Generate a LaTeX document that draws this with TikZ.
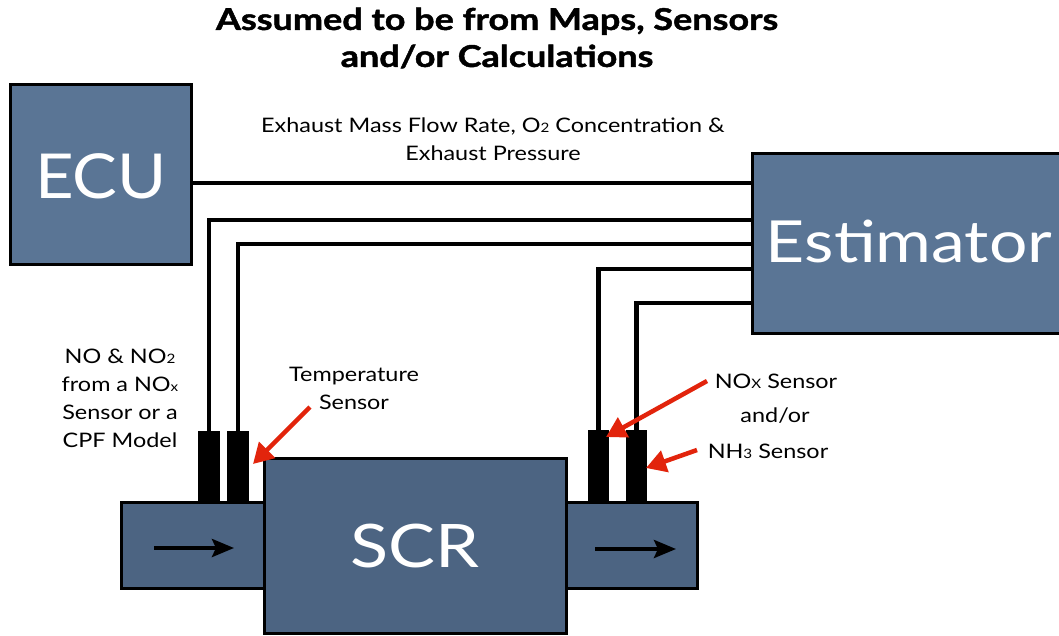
\documentclass[tikz,border=0pt]{standalone}
\usepackage{fontspec}
\setmainfont{Lato}[FakeStretch=1.17]
\newfontfamily\ecufont{Lato}[FakeStretch=1.08]
\newfontfamily\ttlfont{Lato}[FakeStretch=1.2,BoldFeatures={FakeBold=1.5,FakeStretch=1.2}]
\usetikzlibrary{arrows.meta,calc}
\definecolor{boxA}{HTML}{5A7595}
\definecolor{boxB}{HTML}{4C6482}
\definecolor{redarr}{HTML}{E2240C}
\newcommand\sm[1]{{\fontsize{13}{13}\selectfont #1}}
\begin{document}
\begin{tikzpicture}[x=1pt,y=-1pt,
  bigbox/.style={draw=black, line width=3pt, fill=boxA, inner sep=0pt},
  pipe/.style={draw=black, line width=3pt, fill=boxB, inner sep=0pt},
  sensorbox/.style={fill=black, inner sep=0pt, minimum width=22pt, minimum height=72pt},
  wire/.style={line width=4.5pt},
  flow/.style={line width=4pt, -{Stealth[length=22pt,width=18pt,inset=4pt]}},
  callout/.style={draw=redarr, line width=4.5pt, -{Triangle[length=20pt,width=22pt]}},
  lbl/.style={font=\fontsize{20}{28}\selectfont, align=center, inner sep=0pt},
  ttl/.style={font=\ttlfont\bfseries\fontsize{30}{37}\selectfont, align=center, inner sep=0pt}]
\useasboundingbox (0,0) rectangle (1059,635);
\fill[white] (0,0) rectangle (1059,635);

% title
\node[ttl] (title) at (497,38) {Assumed to be from Maps, Sensors\\and/or Calculations};

% big boxes
\node[bigbox, minimum width=181pt, minimum height=180pt] (ecu) at (100.5,174) {};
\node[text=white, font=\ecufont\fontsize{62}{62}\selectfont, inner sep=0pt] (ecut) at (101,176) {ECU};
\node[bigbox, minimum width=320pt, minimum height=180pt] (est) at (912,243) {};
\node[text=white, font=\fontsize{58}{58}\selectfont, inner sep=0pt] (estt) at (909,241) {Estimator};

% pipes and SCR
\node[pipe, minimum width=143pt, minimum height=86pt] (lp) at (192.5,545) {};
\node[pipe, minimum width=131pt, minimum height=86pt] (rp) at (631.5,545) {};
\node[pipe, minimum width=302pt, minimum height=175pt, text=white, font=\fontsize{60}{60}\selectfont] (scr) at (415,545.5) {SCR};

% sensors
\node[sensorbox] (ls1) at (209,467) {};
\node[sensorbox] (ls2) at (238,467) {};
\node[sensorbox, minimum width=21pt] (rs1) at (598.5,466) {};
\node[sensorbox, minimum width=21pt] (rs2) at (636.5,466) {};

% helper heights
\coordinate (h0) at (0,183);
\coordinate (h1) at (0,220);
\coordinate (h2) at (0,244);
\coordinate (h3) at (0,269);
\coordinate (h4) at (0,303);

% wires
\draw[wire] (ecu.east |- h0) -- (est.west |- h0);
\draw[wire] (ls1.north) |- (est.west |- h1);
\draw[wire] (ls2.north) |- (est.west |- h2);
\draw[wire] (rs1.north) |- (est.west |- h3);
\draw[wire] (rs2.north) |- (est.west |- h4);

% flow arrows
\coordinate (la1) at (154,548);
\coordinate (la2) at (234,548);
\coordinate (ra1) at (595,549);
\coordinate (ra2) at (676,549);
\draw[flow] (la1) -- (la2);
\draw[flow] (ra1) -- (ra2);

% labels
\node[lbl] (exh) at (493,139.5) {Exhaust Mass Flow Rate, O\sm{2} Concentration \&\\Exhaust Pressure};
\node[lbl] (nolbl) at (120,398) {NO \& NO\sm{2}\\from a NO\sm{x}\\Sensor or a\\CPF Model};
\node[lbl] (temp) at (354,388) {Temperature\\Sensor};
\node[lbl] (noxl) at (776,381) {NO\sm{X} Sensor};
\node[lbl] (andor) at (775,416) {and/or};
\node[lbl] (nh3l) at (768,451) {NH\sm{3} Sensor};

% callouts
\coordinate (t1) at (310,407);
\coordinate (t2) at (253,464);
\coordinate (n1) at (707,381);
\coordinate (n2) at (606,437);
\coordinate (m1) at (697,450);
\coordinate (m2) at (646,468);
\draw[callout] (t1) -- (t2);
\draw[callout] (n1) -- (n2);
\draw[callout] (m1) -- (m2);
\end{tikzpicture}
\end{document}
